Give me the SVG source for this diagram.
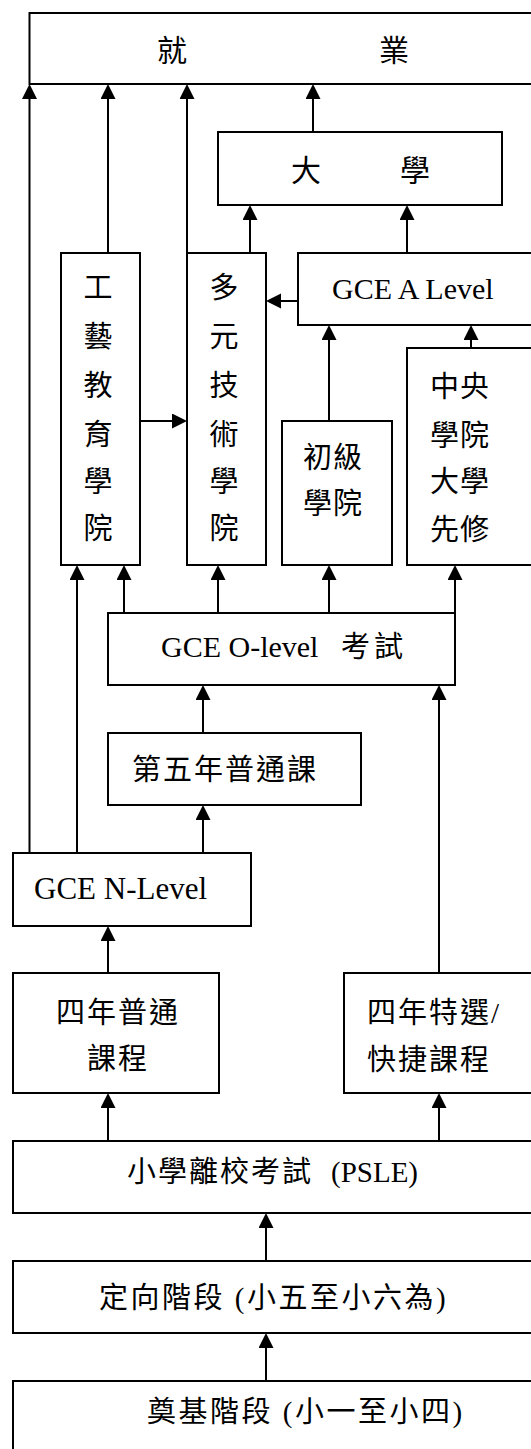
<svg xmlns="http://www.w3.org/2000/svg" width="531" height="1449" viewBox="0 0 531 1449">
<style>
.box{fill:#fff;stroke:#000;stroke-width:2}
.c{fill:none;stroke:#000;stroke-width:2;marker-end:url(#ah)}
text{font-family:"Liberation Serif","Noto Sans CJK TC",serif;font-size:29px;fill:#000}
.m{text-anchor:middle}
</style>
<defs>
<marker id="ah" markerUnits="userSpaceOnUse" markerWidth="16" markerHeight="16" refX="3" refY="7.5" orient="auto">
<path d="M0,0 L15,7.5 L0,15 z" fill="#000"/>
</marker>
</defs>
<rect width="531" height="1449" fill="#fff"/>
<g id="connectors">
<path class="c" d="M29.5,853 V96"/>
<path class="c" d="M108,253 V96"/>
<path class="c" d="M187,253 V96"/>
<path class="c" d="M313,132 V96"/>
<path class="c" d="M250,253 V217"/>
<path class="c" d="M407,253 V217"/>
<path class="c" d="M298,301 H278"/>
<path class="c" d="M329,421 V337"/>
<path class="c" d="M471,348 V337"/>
<path class="c" d="M140,421 H175"/>
<path class="c" d="M77,853 V577"/>
<path class="c" d="M124,613 V577"/>
<path class="c" d="M218,613 V577"/>
<path class="c" d="M329,613 V577"/>
<path class="c" d="M455,613 V577"/>
<path class="c" d="M203,733 V697"/>
<path class="c" d="M439,973 V697"/>
<path class="c" d="M203,853 V817"/>
<path class="c" d="M108,973 V938"/>
<path class="c" d="M108,1141 V1105"/>
<path class="c" d="M439,1141 V1105"/>
<path class="c" d="M266,1261 V1225"/>
<path class="c" d="M266,1381 V1345"/>
</g>
<g id="n-employment">
<rect class="box" x="29.5" y="13" width="515" height="71"/>
<text x="157" y="61" style="font-size:30px">就</text>
<text x="379" y="61" style="font-size:30px">業</text>
</g>
<g id="n-university">
<rect class="box" x="218" y="132" width="284" height="73"/>
<text x="291" y="181" style="font-size:30px">大</text>
<text x="400" y="181" style="font-size:30px">學</text>
</g>
<g id="n-ite">
<rect class="box" x="61" y="253" width="79" height="312"/>
<text class="m" x="98" y="298">工</text>
<text class="m" x="98" y="347">藝</text>
<text class="m" x="98" y="396">教</text>
<text class="m" x="98" y="445">育</text>
<text class="m" x="98" y="492">學</text>
<text class="m" x="98" y="539">院</text>
</g>
<g id="n-poly">
<rect class="box" x="187" y="253" width="79" height="312"/>
<text class="m" x="224" y="298">多</text>
<text class="m" x="224" y="347">元</text>
<text class="m" x="224" y="396">技</text>
<text class="m" x="224" y="445">術</text>
<text class="m" x="224" y="492">學</text>
<text class="m" x="224" y="539">院</text>
</g>
<g id="n-alevel">
<rect class="box" x="298" y="253" width="246" height="72"/>
<text x="332" y="299" style="font-size:30px">GCE A Level</text>
</g>
<g id="n-jc">
<rect class="box" x="282" y="421" width="110" height="144"/>
<text class="m" x="333" y="468" letter-spacing="1">初級</text>
<text class="m" x="333" y="514" letter-spacing="1">學院</text>
</g>
<g id="n-ci">
<rect class="box" x="407" y="348" width="137" height="217"/>
<text class="m" x="460" y="397" letter-spacing="1">中央</text>
<text class="m" x="460" y="446" letter-spacing="1">學院</text>
<text class="m" x="460" y="492" letter-spacing="1">大學</text>
<text class="m" x="460" y="540" letter-spacing="1">先修</text>
</g>
<g id="n-olevel">
<rect class="box" x="108" y="613" width="347" height="72"/>
<text x="161" y="657" style="font-size:30px">GCE O-level</text>
<text x="341" y="657" letter-spacing="4">考試</text>
</g>
<g id="n-fifth">
<rect class="box" x="108" y="733" width="253" height="72"/>
<text x="132" y="780" letter-spacing="2">第五年普通課</text>
</g>
<g id="n-nlevel">
<rect class="box" x="13" y="853" width="238" height="73"/>
<text x="34" y="899" style="font-size:31px">GCE N-Level</text>
</g>
<g id="n-normal">
<rect class="box" x="13" y="973" width="206" height="120"/>
<text class="m" x="118" y="1023" letter-spacing="2">四年普通</text>
<text class="m" x="118" y="1069" letter-spacing="2">課程</text>
</g>
<g id="n-express">
<rect class="box" x="344" y="973" width="200" height="120"/>
<text x="367" y="1023" letter-spacing="2">四年特選/</text>
<text x="367" y="1070" letter-spacing="2">快捷課程</text>
</g>
<g id="n-psle">
<rect class="box" x="13" y="1141" width="531" height="72"/>
<text x="127" y="1182"><tspan letter-spacing="2">小學離校考試</tspan> <tspan x="331">(PSLE)</tspan></text>
</g>
<g id="n-orientation">
<rect class="box" x="13" y="1261" width="531" height="72"/>
<text x="99" y="1308" letter-spacing="2.5">定向階段 (小五至小六為)</text>
</g>
<g id="n-foundation">
<rect class="box" x="13" y="1381" width="531" height="80"/>
<text x="147" y="1422" letter-spacing="2.5">奠基階段 (小一至小四)</text>
</g>
</svg>
